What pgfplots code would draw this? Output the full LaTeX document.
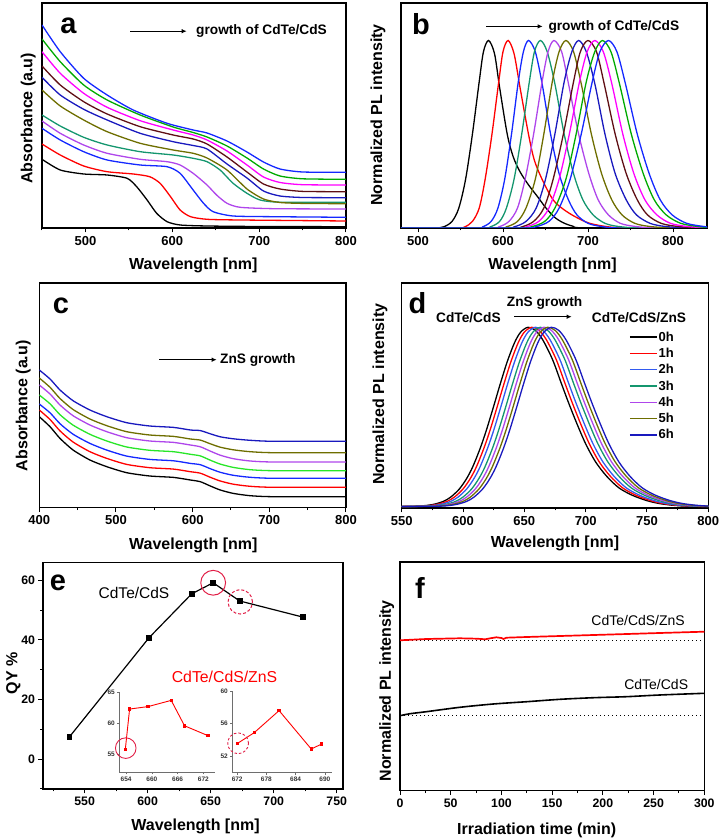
\documentclass[border=0pt]{standalone}
\usepackage{pgfplots}
\pgfplotsset{compat=1.18}
\usepackage{pgfplotstable}
\usepackage{fontspec}
\setmainfont{Liberation Sans}
\usetikzlibrary{arrows.meta}

\definecolor{cred}{RGB}{255,0,0}
\definecolor{cblue}{RGB}{20,40,255}
\definecolor{cblued}{RGB}{50,90,240}
\definecolor{cviolet}{RGB}{175,70,235}
\definecolor{cteal}{RGB}{20,150,110}
\definecolor{colive}{RGB}{110,110,0}
\definecolor{cnavy}{RGB}{25,25,190}
\definecolor{cmaroon}{RGB}{95,15,20}
\definecolor{cmagenta}{RGB}{255,0,255}
\definecolor{cgreen}{RGB}{0,170,0}
\definecolor{clime}{RGB}{40,230,40}
\definecolor{ccircle}{RGB}{225,30,70}
\definecolor{cinset}{RGB}{110,110,110}

\pgfplotstableread{
x c0 c1 c2 c3 c4 c5 c6
400 91 97.7 103.7 112.7 122.7 129.7 137.7
414 81 88.2 94.9 103.9 113.7 120.4 128.7
427 69.3 76.8 84.0 93.0 102.7 109.2 117.7
444 57.7 65.7 73.5 82.6 92.0 98.2 107.0
466 47.7 56.0 64.3 73.4 82.7 88.7 97.7
488 41 49.3 57.6 66.7 76.0 82.0 91.0
514 35 43.3 51.6 60.7 70.0 76.0 85.0
544 31.7 40.0 48.3 57.4 66.7 72.7 81.7
575 30.3 38.6 46.9 56.0 65.3 71.3 80.3
597 27.7 36.0 44.3 53.4 62.7 68.7 77.7
610 26 34.5 43.0 51.8 60.9 67.6 77.1
623 21.7 30.4 39.0 47.5 56.6 63.9 73.9
636 17.7 26.7 35.4 43.6 52.5 60.5 70.9
653 14.3 23.5 32.4 40.3 49.0 57.9 68.9
675 12 21.4 30.4 38 46.7 56 67.4
705 11 20.4 29.4 37 45.7 55 66.4
800 11 20.4 29.4 37 45.7 55 66.4
}\tablec

\pgfplotstableread{
y x0 x1 x2 x3 x4 x5 x6
0 540 540 540 540 540 540 540
0.002 560 563 566 570 573 576 579
0.006 570 573 576 580 583 586 589
0.014 577 580 583 587 590 593 596
0.029 584 587 590 594 597 600 603
0.053 590 593 596 600 603 606 609
0.098 597 600 603 607 610 613 616
0.157 603 606 609 613 616 619 622
0.223 608 611 614 618 621 624 627
0.325 614 617 620 624 627 630 633
0.425 619 622 625 629 632 635 638
0.56 625 628 631 635 638 641 644
0.676 630 633 636 640 643 646 649
0.807 636 639 642 646 649 652 655
0.914 642 645 648 652 655 658 661
0.973 647 650 653 657 660 663 666
1.0 653 656 659 663 666 669 672
0.983 659 662 665 669 672 675 678
0.93 665 668 671 675 678 681 684
0.82 673 676 679 683 686 689 692
0.69 680 683 686 690 693 696 699
0.58 686 689 692 696 699 702 705
0.46 693 696 699 703 706 709 712
0.35 700 703 706 710 713 716 719
0.25 708 711 714 718 721 724 727
0.17 717 720 723 727 730 733 736
0.105 727 730 733 737 740 743 746
0.063 738 741 744 748 751 754 757
0.033 750 753 756 760 763 766 769
0.017 760 763 766 770 773 776 779
0.008 770 773 776 780 783 786 789
0.003 780 783 786 790 793 796 799
0.001 790 793 796 800 803 806 809
0 810 813 816 820 823 826 829
}\tabled

\pgfplotsset{
  panel/.style={
    scale only axis, anchor=south west,
    axis line style={line width=1.4pt},
    tick align=outside, xtick pos=left, ytick pos=left,
    major tick length=4.5pt, minor tick length=2.5pt,
    every tick/.style={black, line width=1pt},
    tick label style={font=\fontsize{13}{15}\selectfont\bfseries},
    /pgf/number format/assume math mode=true,
    /pgf/number format/1000 sep={},
    ytick=\empty,
    every axis plot/.append style={line width=1.3pt},
  },
  inset/.style={
    scale only axis, anchor=south west,
    axis x line=bottom, axis y line=left,
    axis line style={-, cinset, line width=0.9pt},
    tick align=outside, major tick length=2pt,
    every tick/.style={cinset, line width=0.7pt},
    tick label style={font=\fontsize{6.5}{7}\selectfont\bfseries, text=black!80},
    xticklabel style={yshift=1pt}, yticklabel style={xshift=1pt},
    /pgf/number format/assume math mode=true,
    /pgf/number format/1000 sep={},
    every axis plot/.append style={line width=0.9pt},
  },
}

\begin{document}
\begin{tikzpicture}
\useasboundingbox (0pt,0pt) rectangle (720pt,839pt);

% ---------------- panel a
\begin{axis}[panel, at={(42pt,611pt)}, width=304pt, height=225pt,
  xmin=450, xmax=800, ymin=0, ymax=225,
  xtick={500,600,700,800}, minor xtick={450,550,650,750}]
\addplot[black, smooth, tension=0.4] coordinates {(450,68.7)(471,58)(498,54)(525,53)(548,49.7)(559,41.3)(571,28)(582,14.7)(594,6.3)(609,3)(640,2)(700,1.5)(800,1.3)};
\addplot[cred, smooth, tension=0.4] coordinates {(450,84)(471,73)(498,62)(525,56.3)(555,54)(574,51.3)(586,44.7)(598,31.3)(609,18)(621,11.3)(640,8.7)(678,8)(800,7)};
\addplot[cblue, smooth, tension=0.4] coordinates {(450,99.7)(471,88)(498,76.3)(525,68)(563,63)(594,61.3)(609,54.7)(624,38)(636,24.7)(647,16.3)(670,12)(717,11.3)(800,10.7)};
\addplot[cviolet, smooth, tension=0.4] coordinates {(450,107)(471,94.7)(498,83)(525,74.7)(563,68.7)(594,66.3)(609,63)(624,54.7)(640,43)(651,33)(663,24.7)(678,20.7)(717,19.3)(800,19)};
\addplot[cteal, smooth, tension=0.4] coordinates {(450,113)(471,102)(498,90.7)(525,83)(563,76.3)(601,73)(624,69.7)(640,66.3)(655,58)(670,44.7)(686,34.7)(701,28)(724,25.8)(800,25.7)};
\addplot[colive, smooth, tension=0.4] coordinates {(450,138)(471,122)(498,108)(525,96.3)(563,84.7)(601,78)(624,74.7)(640,70)(663,58)(686,39)(705,29)(724,25.5)(750,24.6)(800,24.3)};
\addplot[cnavy, smooth, tension=0.4] coordinates {(450,150.7)(471,133)(498,118.7)(525,108)(563,94.7)(601,86.3)(624,82.5)(640,79)(663,64)(686,50)(705,37)(724,32)(750,30.5)(800,30.3)};
\addplot[cmaroon, smooth, tension=0.4] coordinates {(450,162)(471,143)(498,126.3)(525,114)(563,101.3)(601,93)(624,89)(640,84)(663,71)(686,56)(705,44)(724,39)(750,36.6)(800,36.3)};
\addplot[cmagenta, smooth, tension=0.4] coordinates {(450,176.3)(471,154.7)(498,134.7)(525,120.7)(563,107.3)(601,98)(624,93)(640,88)(663,77)(686,63)(705,51)(724,45.5)(750,43.3)(800,43)};
\addplot[cgreen, smooth, tension=0.4] coordinates {(450,189)(471,166.3)(498,143)(525,128)(563,113)(601,101)(624,95.5)(640,91)(663,82)(686,70)(705,59)(724,52)(750,49.2)(800,48.7)};
\addplot[cblue, smooth, tension=0.4] coordinates {(450,203)(471,176.3)(498,149.7)(525,133)(555,118)(594,104.7)(624,98)(640,95)(663,87)(686,76)(705,66)(724,59)(750,56)(800,55.7)};
\end{axis}

% ---------------- panel b
\begin{axis}[panel, at={(401pt,611pt)}, width=306pt, height=225pt,
  xmin=480, xmax=840, ymin=0, ymax=1.2,
  xtick={500,600,700,800}, minor xtick={550,650,750}]
\addplot[black, smooth] coordinates {(480,0)(518,0)(530,0.006)(540,0.035)(548,0.106)(556,0.26)(564,0.5)(572,0.78)(577,0.94)(583,1)(590,0.93)(596,0.75)(605,0.5)(612,0.38)(620,0.3)(630,0.23)(641,0.165)(650,0.11)(660,0.06)(670,0.03)(682,0.01)(700,0)(840,0)};
\addplot[cred, smooth] coordinates {(480,0)(545,0)(555,0.006)(564,0.035)(572,0.106)(579,0.26)(587,0.5)(595,0.78)(600,0.94)(606,1)(613,0.93)(620,0.75)(630,0.5)(637,0.36)(647,0.25)(659,0.15)(671,0.1)(685,0.06)(702,0.025)(726,0.005)(750,0)(840,0)};
\addplot[cblue, smooth] coordinates {(480,0)(566,0)(576,0.006)(586,0.035)(594,0.106)(602,0.26)(610,0.5)(618,0.78)(624,0.94)(630,1)(638,0.94)(646,0.77)(656,0.5)(666,0.29)(677,0.15)(687,0.07)(700,0.025)(716,0.008)(739,0)(840,0)};
\addplot[cteal, smooth] coordinates {(480,0)(574,0)(585,0.006)(596,0.035)(604,0.106)(613,0.26)(622,0.5)(631,0.78)(637,0.94)(644,1)(652,0.94)(661,0.77)(672,0.5)(683,0.29)(694,0.15)(706,0.07)(720,0.025)(736,0.008)(762,0)(840,0)};
\addplot[cviolet, smooth] coordinates {(480,0)(583,0)(595,0.006)(607,0.035)(617,0.106)(626,0.26)(636,0.5)(646,0.78)(653,0.94)(660,1)(669,0.94)(677,0.77)(689,0.5)(701,0.29)(712,0.15)(724,0.07)(738,0.025)(756,0.008)(782,0)(840,0)};
\addplot[colive, smooth] coordinates {(480,0)(591,0)(604,0.006)(617,0.035)(627,0.106)(638,0.26)(648,0.5)(658,0.78)(666,0.94)(674,1)(683,0.94)(692,0.77)(704,0.5)(716,0.29)(728,0.15)(740,0.07)(755,0.025)(773,0.008)(800,0)(840,0)};
\addplot[cnavy, smooth] coordinates {(480,0)(599,0)(613,0.006)(627,0.035)(639,0.106)(650,0.26)(661,0.5)(672,0.78)(681,0.94)(689,1)(698,0.94)(708,0.77)(720,0.5)(732,0.29)(745,0.15)(757,0.07)(773,0.025)(791,0.008)(819,0)(840,0)};
\addplot[cmaroon, smooth] coordinates {(480,0)(607,0)(622,0.006)(636,0.035)(648,0.106)(659,0.26)(671,0.5)(683,0.78)(691,0.94)(700,1)(710,0.94)(719,0.77)(732,0.5)(745,0.29)(758,0.15)(770,0.07)(786,0.025)(806,0.008)(834,0)(840,0)};
\addplot[cmagenta, smooth] coordinates {(480,0)(612,0)(627,0.006)(642,0.035)(654,0.106)(666,0.26)(678,0.5)(690,0.78)(699,0.94)(708,1)(718,0.94)(728,0.77)(741,0.5)(754,0.29)(767,0.15)(781,0.07)(797,0.025)(817,0.008)(840,0.001)};
\addplot[cgreen, smooth] coordinates {(480,0)(618,0)(633,0.006)(649,0.035)(661,0.106)(674,0.26)(686,0.5)(698,0.78)(708,0.94)(717,1)(727,0.94)(737,0.77)(751,0.5)(765,0.29)(778,0.15)(792,0.07)(809,0.025)(829,0.008)(840,0.003)};
\addplot[cblue, smooth] coordinates {(480,0)(622,0)(638,0.006)(654,0.035)(666,0.106)(679,0.26)(692,0.5)(705,0.78)(714,0.94)(724,1)(734,0.94)(744,0.77)(758,0.5)(772,0.29)(785,0.15)(799,0.07)(816,0.025)(836,0.008)(840,0.006)};
\end{axis}

% ---------------- panel c
\begin{axis}[panel, at={(39.3pt,331.3pt)}, width=306.7pt, height=224.7pt,
  xmin=400, xmax=800, ymin=0, ymax=224.7,
  xtick={400,500,600,700,800}, minor xtick={450,550,650,750}]
\addplot[black, smooth, tension=0.4] table[x=x, y=c0] {\tablec};
\addplot[cred, smooth, tension=0.4] table[x=x, y=c1] {\tablec};
\addplot[cblue, smooth, tension=0.4] table[x=x, y=c2] {\tablec};
\addplot[clime, smooth, tension=0.4] table[x=x, y=c3] {\tablec};
\addplot[cviolet, smooth, tension=0.4] table[x=x, y=c4] {\tablec};
\addplot[colive, smooth, tension=0.4] table[x=x, y=c5] {\tablec};
\addplot[cnavy, smooth, tension=0.4] table[x=x, y=c6] {\tablec};
\end{axis}

% ---------------- panel d
\begin{axis}[panel, at={(401.7pt,331pt)}, width=306.6pt, height=225pt,
  xmin=550, xmax=800, ymin=-0.008, ymax=1.247,
  xtick={550,600,650,700,750,800}, minor xtick={575,625,675,725,775},
  legend style={draw=none, fill=none, at={(0.741,0.79)}, anchor=north west,
    font=\fontsize{13}{13}\selectfont\bfseries, row sep=3pt, inner sep=0pt,
    nodes={inner sep=1.2pt}},
  legend cell align=left,
  legend image code/.code={\draw[#1, line width=1.4pt] (0pt,0pt) -- (27pt,0pt);}]
\addplot[black, smooth] table[x=x0, y=y] {\tabled};
\addlegendentry{0h}
\addplot[cred, smooth] table[x=x1, y=y] {\tabled};
\addlegendentry{1h}
\addplot[cblued, smooth] table[x=x2, y=y] {\tabled};
\addlegendentry{2h}
\addplot[cteal, smooth] table[x=x3, y=y] {\tabled};
\addlegendentry{3h}
\addplot[cviolet, smooth] table[x=x4, y=y] {\tabled};
\addlegendentry{4h}
\addplot[colive, smooth] table[x=x5, y=y] {\tabled};
\addlegendentry{5h}
\addplot[cnavy, smooth] table[x=x6, y=y] {\tabled};
\addlegendentry{6h}
\end{axis}

% ---------------- panel e
\begin{axis}[panel, at={(43pt,50pt)}, width=300pt, height=226.5pt,
  xmin=517, xmax=755, ymin=-10, ymax=66,
  tick label style={font=\fontsize{12.3}{14}\selectfont\bfseries},
  xtick={550,600,650,700,750}, minor xtick={525,575,625,675,725},
  ytick={0,20,40,60}, minor ytick={-10,10,30,50}]
\addplot[black, line width=1.2pt, mark=square*, mark size=2.3pt] coordinates {(538,7.5)(601,40.7)(635,55.5)(652,59.2)(673,53.1)(723,47.7)};
\addplot[ccircle, only marks, mark=o, mark size=12.4pt, mark options={line width=1pt}] coordinates {(652,59.2)};
\addplot[ccircle, only marks, mark=o, mark size=12.2pt, mark options={line width=1pt, dash pattern=on 3pt off 2pt}] coordinates {(673.5,52.8)};
\end{axis}

\begin{axis}[inset, at={(119.3pt,66.7pt)}, width=95.7pt, height=80.6pt,
  xmin=652.4, xmax=674.7, ymin=52.1, ymax=65.1,
  xtick={654,660,666,672}, ytick={55,60,65}]
\addplot[cred, mark=square*, mark size=1.2pt] coordinates {(653.8,55.8)(654.8,62.3)(659.1,62.7)(664.5,63.7)(667.6,59.6)(673.1,58.0)};
\addplot[ccircle, only marks, mark=o, mark size=10.3pt, mark options={line width=0.9pt}] coordinates {(653.9,56.0)};
\end{axis}

\begin{axis}[inset, at={(232.3pt,66.3pt)}, width=99.4pt, height=81.7pt,
  xmin=671, xmax=691.4, ymin=50, ymax=60,
  xtick={672,678,684,690}, ytick={52,56,60}]
\addplot[cred, mark=square*, mark size=1.2pt] coordinates {(672.1,53.6)(675.5,54.9)(680.6,57.6)(687.2,52.9)(689.3,53.5)};
\addplot[ccircle, only marks, mark=o, mark size=10.4pt, mark options={line width=0.9pt, dash pattern=on 2.5pt off 2pt}] coordinates {(672.2,53.6)};
\end{axis}

% ---------------- panel f
\begin{axis}[panel, at={(400pt,48.3pt)}, width=304.3pt, height=228.7pt,
  xmin=0, xmax=300, ymin=0, ymax=228.7,
  tick label style={font=\fontsize{12.3}{14}\selectfont\bfseries},
  xtick={0,50,100,150,200,250,300}, minor xtick={25,75,125,175,225,275}]
\addplot[black, line width=0.9pt, dash pattern=on 1pt off 3pt] coordinates {(0,150.4)(300,150.4)};
\addplot[black, line width=0.9pt, dash pattern=on 1pt off 3pt] coordinates {(0,75)(300,75)};
\addplot[cred, line width=1.7pt] coordinates {(0,150.4)(26,151.7)(59,152.4)(76,152.0)(84,151.4)(89,152.4)(95,153.4)(100,152.7)(102,151.7)(105,153.0)(125,153.7)(158,154.7)(191,155.7)(224,156.7)(256,157.7)(300,159.0)};
\addplot[black, line width=1.6pt, smooth] coordinates {(0,75)(10,77)(26,79)(59,83.4)(92,86.7)(125,89)(158,91.4)(191,93)(223,94)(256,95.7)(300,97.4)};
\end{axis}

% ---------------- labels
\tikzset{lab/.style={font=\fontsize{16}{19}\selectfont\bfseries, inner sep=0pt},
         let/.style={font=\fontsize{29}{32}\selectfont\bfseries, inner sep=0pt},
         ann/.style={font=\fontsize{13.7}{16}\selectfont\bfseries, inner sep=0pt},
         arr/.style={-{Latex[length=5pt,width=4.5pt]}, line width=1.1pt}}
\node[lab] at (193.3pt,573.2pt) {Wavelength [nm]};
\node[lab] at (552.5pt,574pt) {Wavelength [nm]};
\node[lab] at (193.3pt,294pt) {Wavelength [nm]};
\node[lab] at (555pt,295.7pt) {Wavelength [nm]};
\node[lab] at (195.5pt,12.3pt) {Wavelength [nm]};
\node[lab] at (536.7pt,8.2pt) {Irradiation time (min)};
\node[lab, rotate=90] at (28.3pt,720.7pt) {Absorbance (a.u)};
\node[lab, rotate=90] at (378pt,724pt) {Normalized PL intensity};
\node[lab, rotate=90] at (23.3pt,433.2pt) {Absorbance (a.u)};
\node[lab, rotate=90] at (380pt,444.8pt) {Normalized PL intensity};
\node[lab, rotate=90] at (13.3pt,165.7pt) {QY \%};
\node[lab, rotate=90] at (386.7pt,148.2pt) {Normalized PL intensity};

\node[let] at (68.5pt,813.2pt) {a};
\node[let] at (421pt,815pt) {b};
\node[let] at (61pt,533pt) {c};
\node[let] at (417.5pt,536pt) {d};
\node[let] at (58pt,256.5pt) {e};
\node[let] at (420pt,251.5pt) {f};

\draw[arr] (130pt,807.8pt) -- (186.7pt,807.8pt);
\node[ann, anchor=west] at (196pt,808.2pt) {growth of CdTe/CdS};
\draw[arr] (486pt,812.6pt) -- (542.7pt,812.6pt);
\node[ann, anchor=west] at (548.3pt,812.3pt) {growth of CdTe/CdS};
\draw[arr] (159.3pt,479.3pt) -- (216.7pt,479.3pt);
\node[ann, anchor=west] at (220pt,479pt) {ZnS growth};
\node[ann, anchor=west] at (436pt,521.5pt) {CdTe/CdS};
\node[ann, anchor=west] at (506.7pt,535.7pt) {ZnS growth};
\draw[arr] (514pt,522.3pt) -- (571.7pt,522.3pt);
\node[ann, anchor=west] at (591.7pt,521.5pt) {CdTe/CdS/ZnS};

\node[font=\fontsize{15.5}{18}\selectfont, inner sep=0pt] at (134pt,245.7pt) {CdTe/CdS};
\node[font=\fontsize{15.8}{18}\selectfont, inner sep=0pt, text=cred] at (224.5pt,162.3pt) {CdTe/CdS/ZnS};
\node[font=\fontsize{14}{17}\selectfont, inner sep=0pt, anchor=east] at (685pt,218.2pt) {CdTe/CdS/ZnS};
\node[font=\fontsize{14}{17}\selectfont, inner sep=0pt, anchor=east] at (688.3pt,154.8pt) {CdTe/CdS};
\end{tikzpicture}
\end{document}
